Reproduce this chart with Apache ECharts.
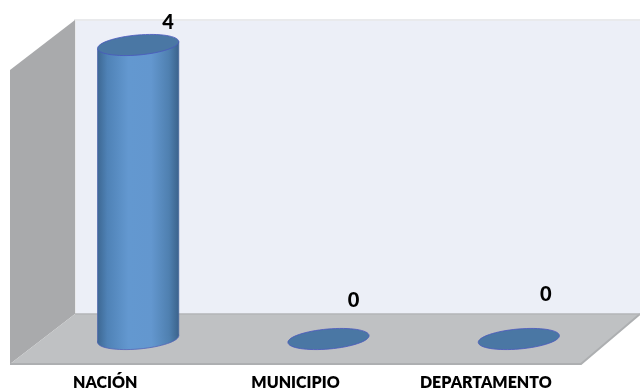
<!DOCTYPE html>
<html>
<head>
<meta charset="utf-8">
<style>html,body{margin:0;padding:0;background:#fff}#chart{width:640px;height:391px}</style>
<script src="https://cdn.jsdelivr.net/npm/echarts@6/dist/echarts.min.js"></script>
</head>
<body>
<div id="chart"></div>
<script>
// Counts per level of government
const categories = ['NACIÓN', 'MUNICIPIO', 'DEPARTAMENTO'];
const counts = [4, 0, 0];

// Box geometry: front plane, and the depth of the back plane behind it
const front = { left: 10, right: 581, top: 70, bottom: 364 };
const depth = { dx: 65, dy: -50 };
// Columns stand halfway into the box
const mid = { dx: 33, dy: -25 };
const valueMax = 4;
const valueScalePx = 73.5;

// Data label offsets from the column top, one per category
const labelOffsets = [[30, -22], [25, -38], [27, -44]];

const tilt = 5 * Math.PI / 180;
const columnRatio = 0.428;
const ellipseRy = 10;

const bodyGradient = {
  type: 'linear', x: 0, y: 0, x2: 1, y2: 0,
  colorStops: [
    { offset: 0, color: '#3d6893' },
    { offset: 0.12, color: '#4f82b6' },
    { offset: 0.38, color: '#6398d0' },
    { offset: 0.66, color: '#6397cf' },
    { offset: 0.88, color: '#4f80b0' },
    { offset: 1, color: '#3b638c' }
  ]
};

function tiltedEllipse(cx, cy, rx, style) {
  return {
    type: 'ellipse',
    shape: { cx: cx, cy: cy, rx: rx, ry: ellipseRy },
    originX: cx,
    originY: cy,
    rotation: tilt,
    style: style
  };
}

function renderColumn(params, api) {
  const value = api.value(1);
  const base = api.coord([api.value(0), 0]);
  const top = api.coord([api.value(0), value]);
  const rx = api.size([1, 0])[0] * columnRatio / 2;
  const ex = rx * Math.cos(tilt);
  const ey = rx * Math.sin(tilt);
  const children = [];
  if (value > 0) {
    children.push(tiltedEllipse(base[0], base[1], rx, {
      fill: bodyGradient, stroke: '#5566b8', lineWidth: 0.8
    }));
    children.push({
      type: 'polygon',
      shape: { points: [
        [top[0] - ex, top[1] + ey], [top[0] + ex, top[1] - ey],
        [base[0] + ex, base[1] - ey], [base[0] - ex, base[1] + ey]
      ] },
      style: { fill: bodyGradient }
    });
    children.push({
      type: 'line',
      shape: { x1: top[0] - ex, y1: top[1] + ey, x2: base[0] - ex, y2: base[1] + ey },
      style: { stroke: '#4d66ac', lineWidth: 0.8 }
    });
    children.push({
      type: 'line',
      shape: { x1: top[0] + ex, y1: top[1] - ey, x2: base[0] + ex, y2: base[1] - ey },
      style: { stroke: '#46679a', lineWidth: 0.8 }
    });
  }
  children.push(tiltedEllipse(top[0], top[1], rx, {
    fill: '#4a77a4', stroke: '#4a58bc', lineWidth: 0.8
  }));
  const off = labelOffsets[params.dataIndex];
  children.push({
    type: 'text',
    x: top[0] + off[0],
    y: top[1] + off[1],
    style: {
      text: String(value),
      fontFamily: 'Lato',
      fontWeight: 900,
      fontSize: 20,
      fill: '#000',
      align: 'center',
      verticalAlign: 'middle'
    }
  });
  return { type: 'group', children: children };
}

const backLeft = front.left + depth.dx;
const backTop = front.top + depth.dy;
const backBottom = front.bottom + depth.dy;
const backRight = 640;

const chart = echarts.init(document.getElementById('chart'), null, { renderer: 'canvas' });
chart.setOption({
  animation: false,
  backgroundColor: '#fff',
  grid: [
    // Front plane, carries the category labels
    { left: front.left, top: front.top, width: front.right - front.left, height: front.bottom - front.top },
    // Column plane, offset into the box
    {
      left: front.left + mid.dx,
      width: front.right - front.left,
      top: front.bottom + mid.dy - valueMax * valueScalePx,
      height: valueMax * valueScalePx
    }
  ],
  xAxis: [
    {
      type: 'category', gridIndex: 0, data: categories,
      axisLine: { show: false }, axisTick: { show: false },
      axisLabel: { interval: 0, margin: 11, color: '#000', fontFamily: 'Lato', fontWeight: 800, fontSize: 16 }
    },
    { type: 'category', gridIndex: 1, data: categories, show: false }
  ],
  yAxis: [
    { type: 'value', gridIndex: 0, min: 0, max: valueMax, interval: 1, show: false },
    { type: 'value', gridIndex: 1, min: 0, max: valueMax, interval: 1, show: false }
  ],
  graphic: [
    {
      type: 'polygon', silent: true,
      shape: { points: [[backLeft, backTop], [backRight, backTop], [backRight, backBottom], [backLeft, backBottom]] },
      style: { fill: '#ecEFf7' }
    },
    {
      type: 'polyline', silent: true,
      shape: { points: [[backLeft, backBottom], [backLeft, backTop], [backRight, backTop]] },
      style: { stroke: '#e9eaec', lineWidth: 2, fill: null }
    },
    {
      type: 'polygon', silent: true,
      shape: { points: [[front.left, front.top], [backLeft, backTop], [backLeft, backBottom], [front.left, front.bottom]] },
      style: { fill: '#a9aaac' }
    },
    {
      type: 'polygon', silent: true,
      shape: { points: [[front.left, front.bottom], [backLeft, backBottom], [backRight, backBottom], [front.right, front.bottom]] },
      style: { fill: '#bfc1c3' }
    },
    {
      type: 'polyline', silent: true,
      shape: { points: [[front.left, front.bottom], [front.right, front.bottom], [backRight, backBottom]] },
      style: { stroke: '#adafb1', lineWidth: 2, fill: null }
    },
    {
      type: 'line', silent: true,
      shape: { x1: backLeft, y1: backBottom, x2: backRight, y2: backBottom },
      style: { stroke: '#b3b5b7', lineWidth: 1.5 }
    }
  ],
  series: [{
    type: 'custom',
    xAxisIndex: 1,
    yAxisIndex: 1,
    clip: false,
    renderItem: renderColumn,
    encode: { x: 0, y: 1 },
    data: categories.map((c, i) => [i, counts[i]])
  }]
});
</script>
</body>
</html>
